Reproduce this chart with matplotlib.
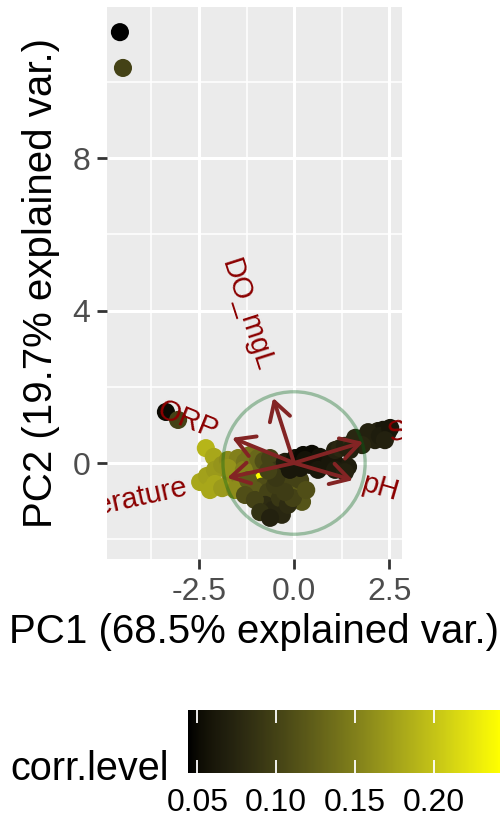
import numpy as np
import matplotlib
matplotlib.use("Agg")
import matplotlib.pyplot as plt
from matplotlib.colors import LinearSegmentedColormap, Normalize
from matplotlib.patches import Circle

plt.rcParams['font.family'] = ['Liberation Sans', 'DejaVu Sans']

# ---- sample scores on PC1 / PC2 with their correlation level ----
pc1 = [-4.58, -4.50, -3.37, -3.05,
       -0.98,
       -2.32, -2.11, -2.47, -2.29, -2.08, -1.89, -2.08, -1.74, -1.47, -1.68,
       -1.29, -1.42, -1.16,
       -2.21, -1.89, -1.55, -1.74, -1.32, -1.16, -0.95,
       -0.80, -0.63, -0.84, -1.03, -0.68, -0.76, -0.55, -0.37, -0.11, 0.08,
       0.21, -0.24, -0.42, 0.03, -1.21, -0.50,
       -1.29, -1.03, -0.89, -0.32, -0.16, -0.03, -0.24, -0.47, -0.68, 0.16,
       0.32, -0.63,
       -0.24, 0.03, 0.24, 0.47, 0.68, 0.16, 0.42, 0.82, 1.21, 1.42, 1.03,
       -0.11, 0.29, 0.55, 0.95, 0.63, 1.08, 1.34,
       1.08, 1.21, 1.34, 1.53, 1.74, 1.87, 2.05, 2.21, 2.34, 2.47, 2.13,
       1.61, 1.95, 2.26, 2.53, 2.39, 1.79, 1.47]
pc2 = [11.31, 10.37, 1.34, 1.13,
       -0.31,
       0.39, 0.16, -0.50, -0.34, -0.18, -0.05, -0.55, 0.08, 0.13, -0.31,
       0.03, -0.39, -0.13,
       -0.71, -0.66, -0.71, -0.13, -0.18, 0.21, 0.13,
       0.05, 0.13, -0.62, -0.71, -0.76, -1.10, -1.23, -0.92, -0.71, -0.71,
       -1.02, -0.45, -0.18, -0.39, -0.45, -0.58,
       -0.84, -0.97, -1.29, -1.36, -1.10, -0.92, -0.76, -0.39, -0.20, -0.45,
       -0.71, -1.44,
       0.03, 0.13, 0.21, 0.24, 0.16, -0.13, -0.05, -0.05, -0.10, -0.10, 0.13,
       -0.18, 0.08, 0.03, 0.03, -0.18, -0.18, -0.24,
       0.34, 0.39, 0.45, 0.52, 0.60, 0.68, 0.76, 0.84, 0.87, 0.81, 0.60,
       0.66, 0.81, 0.71, 0.92, 0.60, 0.47, 0.34]
corr_level = [0.044, 0.100, 0.050, 0.100,
              0.242,
              0.190, 0.180, 0.180, 0.175, 0.170, 0.165, 0.180, 0.160, 0.150, 0.160,
              0.140, 0.150, 0.130,
              0.180, 0.170, 0.160, 0.165, 0.150, 0.140, 0.130,
              0.110, 0.100, 0.110, 0.120, 0.100, 0.080, 0.075, 0.090, 0.110, 0.120,
              0.115, 0.100, 0.090, 0.100, 0.120, 0.095,
              0.110, 0.100, 0.085, 0.075, 0.080, 0.100, 0.095, 0.090, 0.100, 0.100,
              0.110, 0.070,
              0.065, 0.055, 0.050, 0.050, 0.055, 0.060, 0.060, 0.065, 0.070, 0.065, 0.060,
              0.060, 0.055, 0.055, 0.060, 0.060, 0.065, 0.070,
              0.070, 0.075, 0.070, 0.080, 0.075, 0.070, 0.065, 0.070, 0.060, 0.065, 0.070,
              0.075, 0.070, 0.065, 0.060, 0.070, 0.075, 0.070]

# ---- variable loadings (arrow tips) ----
var_names = ['DO_mgL', 'ORP', 'Temperature', 'SpCond', 'pH']
var_pc1 = [-0.55, -1.63, -1.76, 1.82, 1.55]
var_pc2 = [1.71, 0.66, -0.39, 0.55, -0.45]
circle_radius = 1.87

x_major = [-2.5, 0.0, 2.5]
x_minor = [-3.75, -1.25, 1.25]
y_major = [0, 4, 8]
y_minor = [-2, 2, 6, 10]
legend_ticks = [0.05, 0.10, 0.15, 0.20]
legend_labels = ['0.05', '0.10', '0.15', '0.20']
cmin, cmax = 0.044, 0.242


def lab_to_rgb(L, a, b):
    fy = (L + 16) / 116
    fx = fy + a / 500
    fz = fy - b / 200
    d = 6 / 29

    def finv(t):
        return np.where(t > d, t ** 3, 3 * d ** 2 * (t - 4 / 29))

    X = 0.95047 * finv(fx)
    Y = 1.00000 * finv(fy)
    Z = 1.08883 * finv(fz)
    M = np.array([[3.2406, -1.5372, -0.4986],
                  [-0.9689, 1.8758, 0.0415],
                  [0.0557, -0.2040, 1.0570]])
    lin = M @ np.vstack([X, Y, Z])
    lin = np.clip(lin, 0, None)
    rgb = np.where(lin <= 0.0031308, 12.92 * lin, 1.055 * lin ** (1 / 2.4) - 0.055)
    return np.clip(rgb.T, 0, 1)


# black -> yellow gradient interpolated in CIELAB
t = np.linspace(0, 1, 256)
lab_lo = np.array([0.0, 0.0, 0.0])
lab_hi = np.array([97.139, -21.554, 94.478])
lab = lab_lo[None, :] + t[:, None] * (lab_hi - lab_lo)[None, :]
cmap = LinearSegmentedColormap.from_list('blk_yel', lab_to_rgb(lab[:, 0], lab[:, 1], lab[:, 2]))
norm = Normalize(vmin=cmin, vmax=cmax)

W, H, DPI = 503, 822, 100
fig = plt.figure(figsize=(W / DPI, H / DPI), dpi=DPI)

ax = fig.add_axes([107 / W, 1 - 559 / H, 295 / W, 552 / H])
ax.set_facecolor('#EBEBEB')
ax.set_xlim(-4.92, 2.84)
ax.set_ylim(-2.52, 11.97)
for s in ax.spines.values():
    s.set_visible(False)

ax.set_xticks(x_major)
ax.set_xticks(x_minor, minor=True)
ax.set_yticks(y_major)
ax.set_yticks(y_minor, minor=True)
ax.set_xticklabels(['-2.5', '0.0', '2.5'])
ax.set_yticklabels([str(v) for v in y_major])
ax.grid(which='major', color='white', linewidth=2.2)
ax.grid(which='minor', color='white', linewidth=1.1)
ax.set_axisbelow(True)
ax.tick_params(which='major', length=7, width=2.0, color='#333333',
               labelsize=23, labelcolor='#4D4D4D')
ax.tick_params(axis='x', which='major', pad=6)
ax.tick_params(axis='y', which='major', pad=5)
ax.tick_params(which='minor', length=0)

# scores
ax.scatter(pc1, pc2, c=corr_level, cmap=cmap, norm=norm, s=170,
           linewidths=0, zorder=3)

# correlation circle
ax.add_patch(Circle((0, 0), circle_radius, fill=False, edgecolor='#006414',
                    alpha=0.35, linewidth=2.4, zorder=4))

# loading arrows
for vx, vy in zip(var_pc1, var_pc2):
    ax.annotate('', xy=(vx, vy), xytext=(0, 0),
                arrowprops=dict(arrowstyle='->,head_length=0.66,head_width=0.38',
                                color='#832424', lw=2.8, shrinkA=0, shrinkB=0,
                                mutation_scale=20),
                zorder=5)

# variable names, rotated along their arrows
renderer = fig.canvas.get_renderer()
label_size = 21
for name, vx, vy in zip(var_names, var_pc1, var_pc2):
    probe = ax.text(0, 0, name, fontsize=label_size)
    w_pt = probe.get_window_extent(renderer).width * 72 / DPI
    probe.remove()
    ang = np.degrees(np.arctan(vy / vx))
    ux, uy = np.cos(np.radians(ang)), np.sin(np.radians(ang))
    sgn = 1 if vx > 0 else -1
    off = 0.25 * w_pt * sgn
    ax.annotate(name, xy=(vx, vy), xytext=(off * ux, off * uy),
                textcoords='offset points', rotation=ang, rotation_mode='anchor',
                ha='left' if vx > 0 else 'right', va='center',
                fontsize=label_size, color='#8B0000', clip_on=True, zorder=6,
                annotation_clip=False)

# axis titles
fig.text(254.5 / W, 1 - 632 / H, 'PC1 (68.5% explained var.)', fontsize=29,
         ha='center', va='center', color='black')
fig.text(41 / W, 1 - 283 / H, 'PC2 (19.7% explained var.)', fontsize=29,
         ha='center', va='center', rotation=90, color='black')

# colour bar legend
cax = fig.add_axes([188 / W, 1 - 773 / H, 312 / W, 63 / H])
grad = np.linspace(cmin, cmax, 300)[None, :]
cax.imshow(grad, extent=[cmin, cmax, 0, 1], aspect='auto', cmap=cmap, norm=norm)
cax.vlines(legend_ticks, 0, 0.2, color='white', linewidth=1.3)
cax.vlines(legend_ticks, 0.8, 1, color='white', linewidth=1.3)
cax.set_xlim(cmin, cmax)
cax.set_ylim(0, 1)
cax.set_yticks([])
cax.set_xticks(legend_ticks)
cax.set_xticklabels(legend_labels)
cax.tick_params(axis='x', length=0, pad=11, labelsize=23, labelcolor='black')
for s in cax.spines.values():
    s.set_visible(False)
fig.text(10 / W, 1 - 780 / H, 'corr.level', fontsize=28.5, ha='left',
         va='baseline', color='black')

fig.savefig('out.png', dpi=DPI)
